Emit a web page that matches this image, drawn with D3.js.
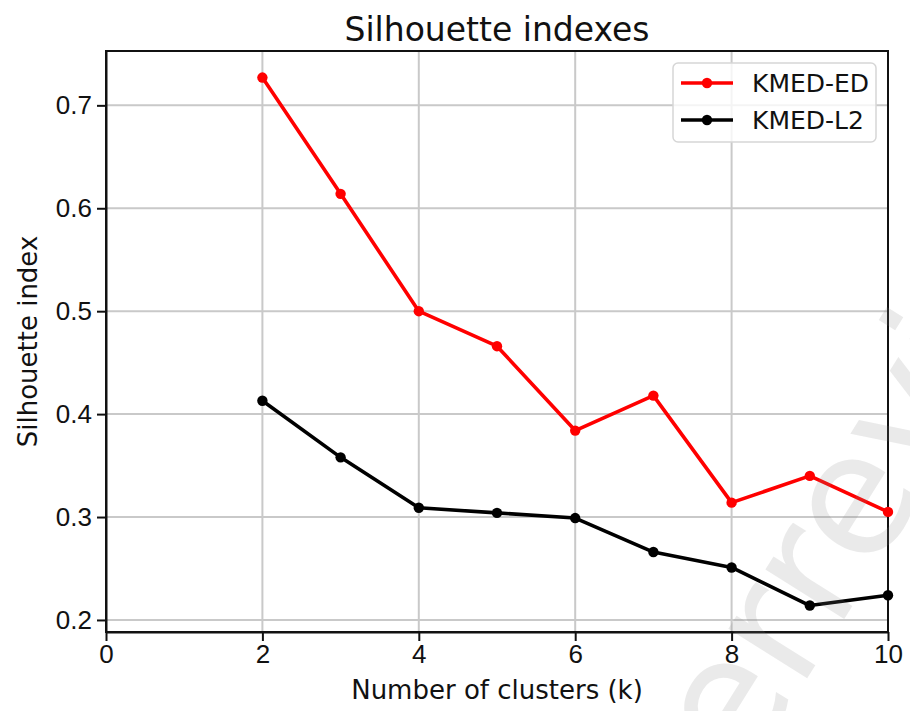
<!DOCTYPE html>
<html>
<head>
<meta charset="utf-8">
<script src="https://cdn.jsdelivr.net/npm/d3@7"></script>
<style>
	body { margin: 0; background: #fff; }
	svg { display: block; font-family: 'DejaVu Sans', sans-serif; }
	.axis path, .axis line { stroke: #111; stroke-width: 2; }
	.axis text { font-size: 26px; fill: #111; }
	.grid line { stroke: #c9c9c9; stroke-width: 2; }
</style>
</head>
<body>
<svg width="910" height="711"></svg>
<script>
const clusters = [2, 3, 4, 5, 6, 7, 8, 9, 10];
const kmedED = [0.727, 0.614, 0.5, 0.466, 0.384, 0.418, 0.314, 0.34, 0.305];
const kmedL2 = [0.413, 0.358, 0.309, 0.304, 0.299, 0.266, 0.251, 0.214, 0.224];
const xTicks = [0, 2, 4, 6, 8, 10];
const yTicks = [0.2, 0.3, 0.4, 0.5, 0.6, 0.7];
const seriesNames = ['KMED-ED', 'KMED-L2'];
const seriesColors = ['#ff0000', '#000000'];

const MARGIN = { top: 51, right: 22, bottom: 79, left: 106 };
const W = 910;
const H = 711;
const width = W - MARGIN.left - MARGIN.right;
const height = H - MARGIN.top - MARGIN.bottom;

const $svg = d3.select('svg');
const $g = $svg.append('g').attr('transform', `translate(${MARGIN.left},${MARGIN.top})`);

const x = d3.scaleLinear().domain([0, 10]).range([0, width]);
const y = d3.scaleLinear().domain([0.1883, 0.7528]).range([height, 0]);

// grid
const $grid = $g.append('g').attr('class', 'grid');
$grid.selectAll('line.v').data(xTicks).enter().append('line')
	.attr('class', 'v')
	.attr('x1', d => x(d)).attr('x2', d => x(d))
	.attr('y1', 0).attr('y2', height);
$grid.selectAll('line.h').data(yTicks).enter().append('line')
	.attr('class', 'h')
	.attr('x1', 0).attr('x2', width)
	.attr('y1', d => y(d)).attr('y2', d => y(d));

// axes
$g.append('g').attr('class', 'axis')
	.attr('transform', `translate(0,${height})`)
	.call(d3.axisBottom(x).tickValues(xTicks).tickSize(9).tickPadding(4).tickSizeOuter(0).tickFormat(d3.format('d')));
$g.append('g').attr('class', 'axis')
	.call(d3.axisLeft(y).tickValues(yTicks).tickSize(9).tickPadding(5).tickSizeOuter(0).tickFormat(d3.format('.1f')));

// frame
$g.append('rect')
	.attr('width', width).attr('height', height)
	.attr('fill', 'none').attr('stroke', '#111').attr('stroke-width', 2);

// series
const series = [kmedED, kmedL2].map((vals, i) => ({
	name: seriesNames[i],
	color: seriesColors[i],
	points: clusters.map((k, j) => ({ k, v: vals[j] }))
}));

const line = d3.line().x(d => x(d.k)).y(d => y(d.v));

const $series = $g.selectAll('.series').data(series).enter().append('g').attr('class', 'series');
$series.append('path')
	.attr('d', d => line(d.points))
	.attr('fill', 'none')
	.attr('stroke', d => d.color)
	.attr('stroke-width', 3.6)
	.attr('stroke-linejoin', 'round');
$series.selectAll('circle').data(d => d.points.map(p => ({ ...p, color: d.color }))).enter().append('circle')
	.attr('cx', d => x(d.k)).attr('cy', d => y(d.v)).attr('r', 5.2)
	.attr('fill', d => d.color);

// legend
const $legend = $g.append('g').attr('transform', `translate(${width - 215},12)`);
$legend.append('rect')
	.attr('width', 203).attr('height', 79).attr('rx', 5)
	.attr('fill', '#fff').attr('fill-opacity', 0.8)
	.attr('stroke', '#d6d6d6').attr('stroke-width', 1.5);
const $item = $legend.selectAll('.item').data(series).enter().append('g')
	.attr('transform', (d, i) => `translate(0,${20 + i * 37})`);
$item.append('line')
	.attr('x1', 8).attr('x2', 60).attr('y1', 0).attr('y2', 0)
	.attr('stroke', d => d.color).attr('stroke-width', 3.6);
$item.append('circle').attr('cx', 34).attr('cy', 0).attr('r', 5.2).attr('fill', d => d.color);
$item.append('text')
	.attr('x', 79).attr('y', 0).attr('dy', '0.36em')
	.style('font-size', '25px').attr('fill', '#111')
	.text(d => d.name);

// titles
$svg.append('text')
	.attr('x', MARGIN.left + width / 2).attr('y', 41)
	.attr('text-anchor', 'middle').style('font-size', '33px').attr('fill', '#111')
	.text('Silhouette indexes');
$svg.append('text')
	.attr('x', MARGIN.left + width / 2).attr('y', 699)
	.attr('text-anchor', 'middle').style('font-size', '26px').attr('fill', '#111')
	.text('Number of clusters (k)');
$svg.append('text')
	.attr('transform', `translate(37,${MARGIN.top + height / 2}) rotate(-90)`)
	.attr('text-anchor', 'middle').style('font-size', '26px').attr('fill', '#111')
	.text('Silhouette index');

// watermark
const $wm = $svg.append('g').attr('transform', 'translate(836,632) rotate(-58)')
	.style('font-size', '170px').attr('fill', '#808080').attr('fill-opacity', 0.17);
$wm.append('text').attr('text-anchor', 'end').text('Preprint not peer ');
$wm.append('text').attr('text-anchor', 'start').text('reviewed');
</script>
</body>
</html>
